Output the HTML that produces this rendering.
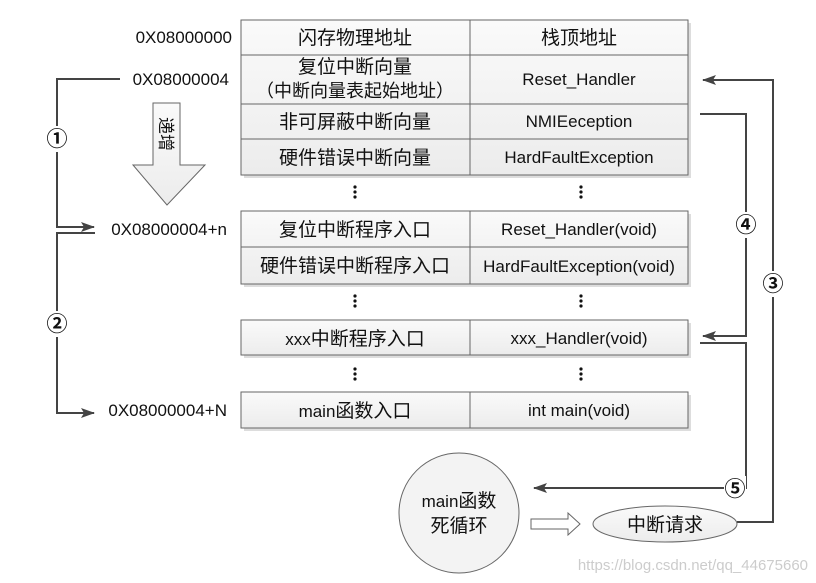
<!DOCTYPE html>
<html><head><meta charset="utf-8"><style>
html,body{margin:0;padding:0;background:#fff;}
svg{display:block;}
text{font-family:"Liberation Sans","Noto Sans CJK SC",sans-serif;fill:#111;}
.c{font-size:17px;}
.z{font-size:19px;}
</style></head><body>
<svg width="816" height="583" viewBox="0 0 816 583" xmlns="http://www.w3.org/2000/svg">
<defs>
<linearGradient id="g" x1="0" y1="0" x2="0" y2="1"><stop offset="0" stop-color="#fafafa"/><stop offset="1" stop-color="#ececec"/></linearGradient>
<marker id="ah" markerWidth="14" markerHeight="10" refX="13" refY="5" orient="auto" markerUnits="userSpaceOnUse"><path d="M0,0 L14,5 L0,10 L3,5 Z" fill="#444"/></marker>
</defs>
<g stroke="#666" stroke-width="1" fill="url(#g)">
<rect x="244" y="23" width="447" height="155" fill="#ddd" stroke="none"/>
<rect x="241" y="20" width="447" height="155"/>
<line x1="241" y1="55" x2="688" y2="55"/><line x1="241" y1="104" x2="688" y2="104"/><line x1="241" y1="139" x2="688" y2="139"/>
<line x1="470" y1="20" x2="470" y2="175"/>
<rect x="244" y="214" width="447" height="73" fill="#ddd" stroke="none"/>
<rect x="241" y="211" width="447" height="73"/>
<line x1="241" y1="247" x2="688" y2="247"/><line x1="470" y1="211" x2="470" y2="284"/>
<rect x="244" y="323" width="447" height="35" fill="#ddd" stroke="none"/>
<rect x="241" y="320" width="447" height="35"/><line x1="470" y1="320" x2="470" y2="355"/>
<rect x="244" y="395" width="447" height="36" fill="#ddd" stroke="none"/>
<rect x="241" y="392" width="447" height="36"/><line x1="470" y1="392" x2="470" y2="428"/>
</g>
<g class="c" text-anchor="middle">
<text class="z" x="355" y="44">闪存物理地址</text><text class="z" x="579" y="44">栈顶地址</text>
<text class="z" x="355" y="73">复位中断向量</text><text x="355" y="97" font-size="18">（中断向量表起始地址）</text><text x="579" y="85">Reset_Handler</text>
<text class="z" x="355" y="128">非可屏蔽中断向量</text><text x="579" y="127">NMIEeception</text>
<text class="z" x="355" y="164">硬件错误中断向量</text><text x="579" y="163">HardFaultException</text>
<text class="z" x="355" y="236">复位中断程序入口</text><text x="579" y="235">Reset_Handler(void)</text>
<text class="z" x="355" y="272">硬件错误中断程序入口</text><text x="579" y="272">HardFaultException(void)</text>
<text x="355" y="345">xxx<tspan font-size="19">中断程序入口</tspan></text><text x="579" y="344">xxx_Handler(void)</text>
<text x="355" y="417">main<tspan font-size="19">函数入口</tspan></text><text x="579" y="416">int main(void)</text>
</g>
<g class="c" text-anchor="end">
<text x="232" y="43">0X08000000</text><text x="229" y="85">0X08000004</text>
<text x="227" y="235">0X08000004+n</text><text x="227" y="416">0X08000004+N</text>
</g>
<g fill="#111">
<circle cx="355" cy="187" r="1.6"/><circle cx="355" cy="192" r="1.6"/><circle cx="355" cy="197" r="1.6"/>
<circle cx="581" cy="187" r="1.6"/><circle cx="581" cy="192" r="1.6"/><circle cx="581" cy="197" r="1.6"/>
<circle cx="355" cy="296" r="1.6"/><circle cx="355" cy="301" r="1.6"/><circle cx="355" cy="306" r="1.6"/>
<circle cx="581" cy="296" r="1.6"/><circle cx="581" cy="301" r="1.6"/><circle cx="581" cy="306" r="1.6"/>
<circle cx="355" cy="369" r="1.6"/><circle cx="355" cy="374" r="1.6"/><circle cx="355" cy="379" r="1.6"/>
<circle cx="581" cy="369" r="1.6"/><circle cx="581" cy="374" r="1.6"/><circle cx="581" cy="379" r="1.6"/>
</g>
<path d="M153,103 L180,103 L180,165 L205,165 L167,205 L133,165 L153,165 Z" fill="url(#g)" stroke="#666"/>
<text x="0" y="0" transform="translate(160,134) rotate(90)" font-size="17" text-anchor="middle">递增</text>
<g stroke="#444" stroke-width="2" fill="none">
<polyline points="120,79 57,79 57,227 94,227" marker-end="url(#ah)"/>
<polyline points="95,233 57,233 57,413 94,413" marker-end="url(#ah)"/>
<polyline points="700,114 746,114 746,336 703,336" marker-end="url(#ah)"/>
<polyline points="700,343 746,343 746,488 534,488" marker-end="url(#ah)"/>
<polyline points="737,522 773,522 773,80 703,80" marker-end="url(#ah)"/>
</g>
<g font-size="21" font-weight="bold" text-anchor="middle">
<rect x="46" y="126" width="22" height="26" fill="#fff"/><text x="57" y="146">①</text>
<rect x="46" y="311" width="22" height="26" fill="#fff"/><text x="57" y="331">②</text>
<rect x="762" y="271" width="22" height="26" fill="#fff"/><text x="773" y="291">③</text>
<rect x="735" y="212" width="22" height="26" fill="#fff"/><text x="746" y="232">④</text>
<rect x="724" y="476" width="22" height="26" fill="#fff"/><text x="735" y="496">⑤</text>
</g>
<circle cx="459" cy="513" r="60" fill="#f3f3f3" stroke="#666"/>
<text class="c" x="459" y="507" text-anchor="middle">main<tspan font-size="19">函数</tspan></text>
<text class="z" x="459" y="532" text-anchor="middle">死循环</text>
<path d="M531,519 L568,519 L568,513 L580,524 L568,535 L568,529 L531,529 Z" fill="#fff" stroke="#666"/>
<ellipse cx="665" cy="524" rx="72" ry="18" fill="url(#g)" stroke="#666"/>
<text class="z" x="665" y="531" text-anchor="middle">中断请求</text>
<text x="808" y="570" text-anchor="end" font-size="15" style="fill:#ccc">https://blog.csdn.net/qq_44675660</text>
</svg>
</body></html>
